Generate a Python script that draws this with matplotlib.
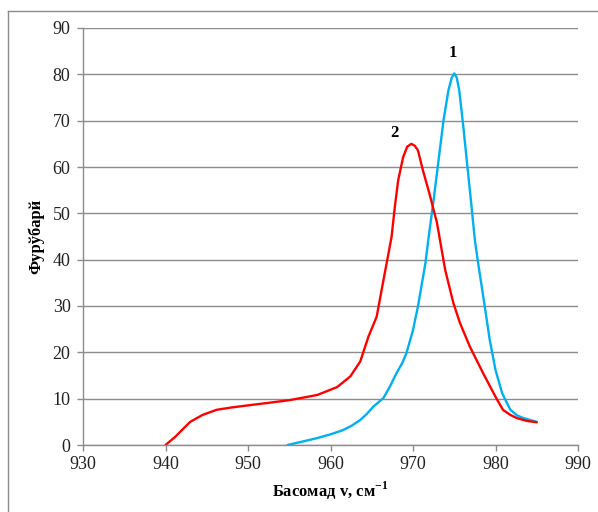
import numpy as np
import matplotlib.pyplot as plt
from matplotlib.lines import Line2D

# curve 1 (blue)
x1 = [954.8, 956.5, 958.4, 960.0, 961.5, 962.6, 963.6, 964.4, 965.2, 966.4, 967.2,
      968.0, 968.7, 969.2, 970.0, 970.6, 971.5, 971.9, 972.5, 973.1, 973.7, 974.3,
      974.7, 975.0, 975.3, 975.6, 976.1, 976.6, 977.1, 977.5, 977.9, 978.7, 979.3,
      980.0, 980.8, 981.8, 982.6, 983.4, 984.2, 985.0]
y1 = [0.0, 0.7, 1.5, 2.3, 3.2, 4.2, 5.4, 6.7, 8.3, 10.1, 12.6,
      15.5, 17.7, 19.8, 24.8, 29.9, 39.2, 44.9, 52.9, 61.5, 70.1, 76.6,
      79.3, 80.2, 79.3, 76.6, 68.7, 60.0, 51.4, 44.2, 39.2, 29.9, 22.7,
      16.2, 11.2, 7.6, 6.4, 5.8, 5.4, 5.0]

# curve 2 (red)
x2 = [940.0, 941.2, 942.2, 943.0, 944.5, 946.2, 948.0, 950.2, 952.5, 955.1, 958.4,
      960.8, 962.4, 963.6, 964.6, 965.6, 966.2, 966.8, 967.4, 967.8, 968.2, 968.8,
      969.3, 969.8, 970.2, 970.6, 971.2, 972.0, 972.9, 973.9, 974.9, 975.7, 976.9,
      978.5, 980.0, 980.9, 981.8, 982.6, 983.8, 985.0]
y2 = [0.0, 1.8, 3.6, 5.0, 6.5, 7.6, 8.1, 8.6, 9.1, 9.7, 10.8,
      12.5, 14.8, 18.0, 23.4, 27.7, 33.5, 39.2, 44.9, 51.4, 57.1, 62.1,
      64.4, 65.0, 64.6, 63.6, 59.3, 54.2, 48.0, 37.8, 30.6, 26.3, 21.2,
      15.5, 10.4, 7.6, 6.5, 5.8, 5.2, 4.9]

xticks = [930, 940, 950, 960, 970, 980, 990]
yticks = [0, 10, 20, 30, 40, 50, 60, 70, 80, 90]

plt.rcParams['font.family'] = ['Liberation Serif', 'DejaVu Serif']
plt.rcParams['mathtext.fontset'] = 'custom'
plt.rcParams['mathtext.rm'] = 'Liberation Serif'
plt.rcParams['mathtext.bf'] = 'Liberation Serif:bold'

fig = plt.figure(figsize=(5.98, 5.12), dpi=100)
ax = fig.add_axes([83/598, 1 - 445/512, (578 - 83)/598, (445 - 28)/512])

grid_c = '#8c8c8c'
ax.plot(x1, y1, color='#00b0f0', lw=1.7, solid_joinstyle='round', solid_capstyle='round')
ax.plot(x2, y2, color='#ff0000', lw=1.7, solid_joinstyle='round', solid_capstyle='round')

ax.set_xlim(930, 990)
ax.set_ylim(0, 90)
ax.set_xticks(xticks)
ax.set_yticks(yticks)
ax.yaxis.grid(True, color=grid_c, lw=1.0)
ax.set_axisbelow(True)
for s in ['top', 'right']:
    ax.spines[s].set_visible(False)
for s in ['left', 'bottom']:
    ax.spines[s].set_color(grid_c)
    ax.spines[s].set_linewidth(1.0)
ax.tick_params(colors=grid_c, labelcolor='#222222', labelsize=13,
               length=4, width=1.0)
ax.tick_params(axis='y', pad=5)
ax.tick_params(axis='x', pad=4)

ax.set_xlabel(r'Басомад v, см$^{\mathbf{-1}}$', fontsize=12, fontweight='bold',
              labelpad=5)
ax.set_ylabel('Фурўбарй', fontsize=12, fontweight='bold', labelpad=6)

ax.text(974.8, 84.5, '1', fontsize=12, fontweight='bold', ha='center', va='center')
ax.text(967.8, 67.4, '2', fontsize=12, fontweight='bold', ha='center', va='center')

# outer chart frame (left and top edges visible)
fig.add_artist(Line2D([8/598, 8/598], [0, 1 - 11/512], color='#8c8c8c', lw=1.0,
                      transform=fig.transFigure))
fig.add_artist(Line2D([8/598, 1], [1 - 11/512, 1 - 11/512], color='#8c8c8c', lw=1.0,
                      transform=fig.transFigure))

fig.savefig('out.png', dpi=100)
